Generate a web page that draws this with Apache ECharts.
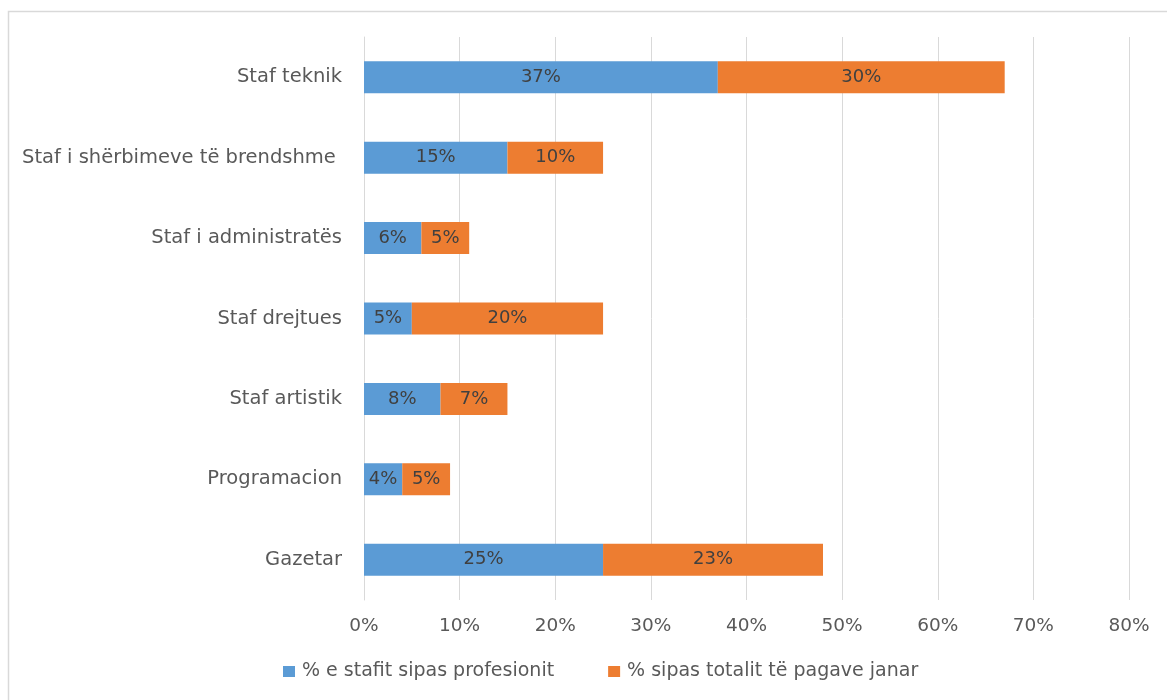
<!DOCTYPE html>
<html><head><meta charset="utf-8">
<script src="https://cdn.jsdelivr.net/npm/echarts@6/dist/echarts.min.js"></script>
<style>html,body{margin:0;padding:0;background:#fff}#c{width:1167px;height:700px}</style>
</head><body><div id="c"></div>
<script>
const categories = ['Gazetar','Programacion','Staf artistik','Staf drejtues','Staf i administratës','Staf i shërbimeve të brendshme ','Staf teknik'];
const seriesNames = ['% e stafit sipas profesionit','% sipas totalit të pagave janar'];
const staffShare = [25,4,8,5,6,15,37];
const wageShare = [23,5,7,20,5,10,30];
const xTicks = [0,10,20,30,40,50,60,70,80];

const font = '"DejaVu Sans", sans-serif';
const chart = echarts.init(document.getElementById('c'));
chart.setOption({
  animation:false,
  color:['#5B9BD5','#ED7D31'],
  graphic:[{type:'rect',shape:{x:8.5,y:11.5,width:1200,height:720},style:{fill:'none',stroke:'#D9D9D9',lineWidth:1.5},z:-1}],
  grid:{left:364,right:38,top:37,bottom:100},
  legend:{bottom:14,left:278,itemWidth:12,itemHeight:11,itemGap:54,icon:'rect',
    textStyle:{fontFamily:font,fontSize:19,color:'#595959',padding:[0,0,0,2]},data:seriesNames},
  xAxis:{type:'value',min:xTicks[0],max:xTicks[xTicks.length-1],interval:10,
    axisLabel:{formatter:v=>v+'%',fontFamily:font,fontSize:18.5,color:'#595959',margin:17},
    axisLine:{show:false},axisTick:{show:false},
    splitLine:{lineStyle:{color:'#D9D9D9',width:1}}},
  yAxis:{type:'category',data:categories,
    axisLabel:{fontFamily:font,fontSize:19.5,color:'#595959',margin:22},
    axisLine:{lineStyle:{color:'#D9D9D9'}},axisTick:{show:false}},
  series:[
    {name:seriesNames[0],type:'bar',stack:'s',barWidth:32,data:staffShare,
     label:{show:true,position:'inside',formatter:p=>p.value+'%',fontFamily:font,fontSize:18,color:'#404040'}},
    {name:seriesNames[1],type:'bar',stack:'s',barWidth:32,data:wageShare,
     label:{show:true,position:'inside',formatter:p=>p.value+'%',fontFamily:font,fontSize:18,color:'#404040'}}
  ]
});
</script></body></html>
